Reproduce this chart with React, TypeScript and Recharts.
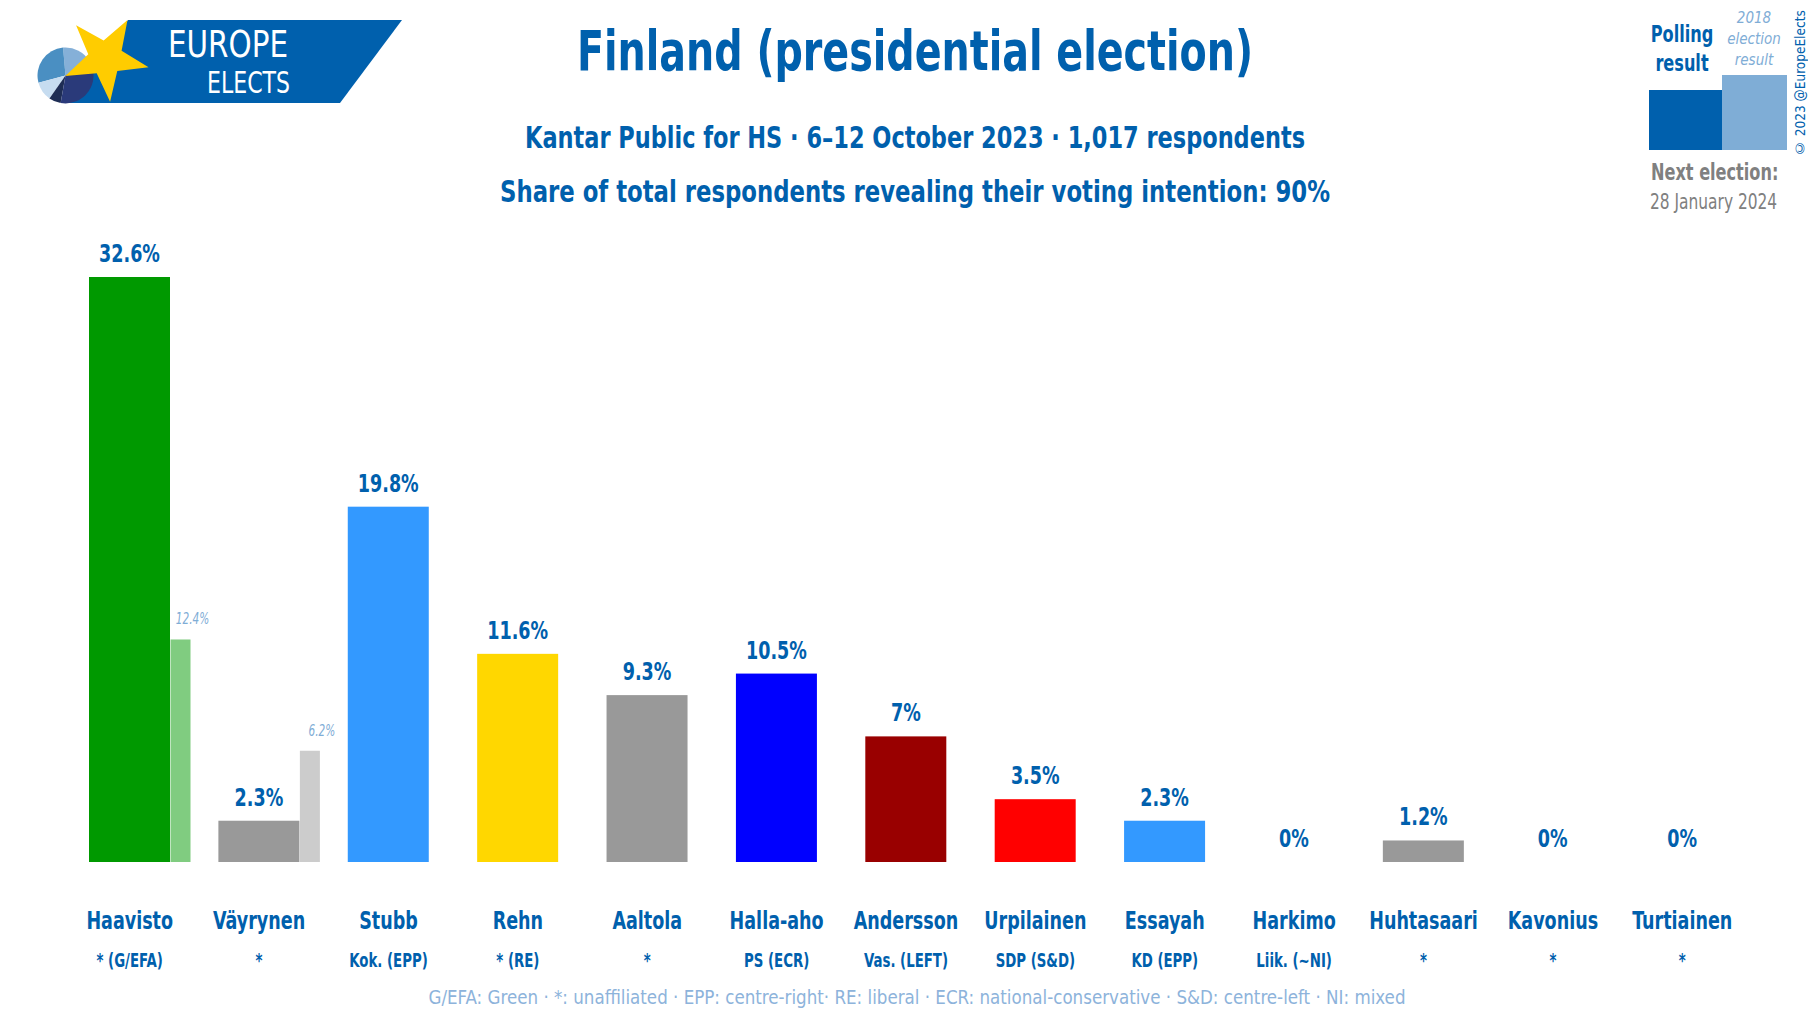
import React from 'react';
import { BarChart, Bar, XAxis, YAxis, Cell, LabelList, PieChart, Pie } from 'recharts';

const candidates = ['Haavisto', 'Väyrynen', 'Stubb', 'Rehn', 'Aaltola', 'Halla-aho', 'Andersson', 'Urpilainen', 'Essayah', 'Harkimo', 'Huhtasaari', 'Kavonius', 'Turtiainen'];
const affiliations = ['* (G/EFA)', '*', 'Kok. (EPP)', '* (RE)', '*', 'PS (ECR)', 'Vas. (LEFT)', 'SDP (S&D)', 'KD (EPP)', 'Liik. (~NI)', '*', '*', '*'];
const polling = [32.6, 2.3, 19.8, 11.6, 9.3, 10.5, 7, 3.5, 2.3, 0, 1.2, 0, 0];
const result2018 = [12.4, 6.2, null, null, null, null, null, null, null, null, null, null, null];
const pollColors = ['#009900', '#999999', '#3399ff', '#ffd700', '#999999', '#0000ff', '#990000', '#ff0000', '#3399ff', '#999999', '#999999', '#999999', '#999999'];
const prevColors = ['#80cc80', '#cccccc', '#cccccc', '#cccccc', '#cccccc', '#cccccc', '#cccccc', '#cccccc', '#cccccc', '#cccccc', '#cccccc', '#cccccc', '#cccccc'];

const logoSlices = [
  { name: 'a', value: 65, fill: '#85b0d8' },
  { name: 'b', value: 100, fill: '#4a8fc2' },
  { name: 'c', value: 40, fill: '#c6dcf0' },
  { name: 'd', value: 25, fill: '#1e2d55' },
  { name: 'e', value: 130, fill: '#2a3a7a' },
];

const data = candidates.map((name, i) => ({
  name,
  poll: polling[i],
  prev: result2018[i],
}));

const FONT = '"DejaVu Sans Condensed", "DejaVu Sans", sans-serif';
const BLUE = '#0060ad';
const LIGHT = '#7fadd6';
const MAIN_W = 81;
const PREV_W = 20;
const SX = 0.78; // squeeze to mimic the narrow original font

const NText = (p: any) => {
  const { x, y, anchor = 'start', size, weight = 'normal', italic, fill, children } = p;
  return (
    <text
      transform={`translate(${x} ${y}) scale(${SX} 1)`}
      textAnchor={anchor}
      fontFamily={FONT}
      fontSize={size}
      fontWeight={weight}
      fontStyle={italic ? 'italic' : 'normal'}
      fill={fill}
    >
      {children}
    </text>
  );
};

const CategoryTick = (props: any) => {
  const { x, y, payload } = props;
  return (
    <g>
      <NText x={x} y={y + 67} anchor="middle" size={25} weight="bold" fill={BLUE}>
        {payload.value}
      </NText>
      <NText x={x} y={y + 105} anchor="middle" size={19} weight="bold" fill={BLUE}>
        {affiliations[payload.index]}
      </NText>
    </g>
  );
};

const MainShape = (props: any) => {
  const { x, y, width, height, fill, payload } = props;
  if (!payload || !payload.poll) return null;
  return <rect x={x} y={y} width={width} height={height} fill={fill} />;
};

const PrevShape = (props: any) => {
  const { x, y, width, height, fill } = props;
  if (!height) return null;
  return <rect x={x + MAIN_W / 2 + PREV_W / 2} y={y} width={width} height={height} fill={fill} />;
};

const PollLabel = (props: any) => {
  const { x, y, width, height, value } = props;
  const top = value ? y : y + height;
  return (
    <NText x={x + width / 2} y={top - 15} anchor="middle" size={25} weight="bold" fill={BLUE}>
      {value}%
    </NText>
  );
};

const PrevLabel = (props: any) => {
  const { x, y, width, value } = props;
  if (value == null) return null;
  return (
    <NText x={x + MAIN_W / 2 + PREV_W / 2 + width / 2 + 12} y={y - 15} anchor="middle" size={15} italic fill={LIGHT}>
      {value}%
    </NText>
  );
};

function star(cx: number, cy: number, r: number, rot: number) {
  const pts: string[] = [];
  for (let i = 0; i < 10; i++) {
    const rr = i % 2 === 0 ? r : r * 0.4;
    const a = ((rot + i * 36) * Math.PI) / 180;
    pts.push(`${cx + rr * Math.sin(a)},${cy - rr * Math.cos(a)}`);
  }
  return pts.join(' ');
}

export default function App() {
  return (
    <div style={{ position: 'absolute', left: 0, top: 0, width: 1819, height: 1026, background: '#fff', overflow: 'hidden' }}>
      <svg width={1819} height={1026} style={{ position: 'absolute', left: 0, top: 0 }}>
        {/* logo banner */}
        <polygon points="128,20 402,20 340,103 67,103" fill="#0060ad" />
        <text x={168} y={57} fontFamily={FONT} fontSize={37} fill="#fff" textLength={120} lengthAdjust="spacingAndGlyphs">EUROPE</text>
        <text x={207} y={93} fontFamily={FONT} fontSize={30} fill="#fff" textLength={83} lengthAdjust="spacingAndGlyphs">ELECTS</text>

        {/* titles */}
        <text x={915} y={70} textAnchor="middle" fontFamily={FONT} fontWeight="bold" fontSize={56} fill={BLUE} textLength={676} lengthAdjust="spacingAndGlyphs">
          Finland (presidential election)
        </text>
        <text x={915} y={148} textAnchor="middle" fontFamily={FONT} fontWeight="bold" fontSize={30} fill={BLUE} textLength={780} lengthAdjust="spacingAndGlyphs">
          Kantar Public for HS · 6–12 October 2023 · 1,017 respondents
        </text>
        <text x={915} y={202} textAnchor="middle" fontFamily={FONT} fontWeight="bold" fontSize={30} fill={BLUE} textLength={830} lengthAdjust="spacingAndGlyphs">
          Share of total respondents revealing their voting intention: 90%
        </text>

        {/* legend */}
        <NText x={1682} y={42} anchor="middle" size={23} weight="bold" fill={BLUE}>Polling</NText>
        <NText x={1682} y={71} anchor="middle" size={23} weight="bold" fill={BLUE}>result</NText>
        <text x={1754} y={23} textAnchor="middle" fontFamily={FONT} fontStyle="italic" fontSize={15} fill={LIGHT}>2018</text>
        <text x={1754} y={44} textAnchor="middle" fontFamily={FONT} fontStyle="italic" fontSize={15} fill={LIGHT}>election</text>
        <text x={1754} y={65} textAnchor="middle" fontFamily={FONT} fontStyle="italic" fontSize={15} fill={LIGHT}>result</text>
        <rect x={1649} y={90} width={73} height={60} fill={BLUE} />
        <rect x={1722} y={75} width={65} height={75} fill={LIGHT} />
        <NText x={1651} y={180} size={23} weight="bold" fill="#808080">Next election:</NText>
        <NText x={1650} y={209} size={22} fill="#808080">28 January 2024</NText>

        {/* footnote */}
        <text x={917} y={1004} textAnchor="middle" fontFamily={FONT} fontSize={20} fill="#8db3db" textLength={977} lengthAdjust="spacingAndGlyphs">
          G/EFA: Green · *: unaffiliated · EPP: centre-right· RE: liberal · ECR: national-conservative · S&amp;D: centre-left · NI: mixed
        </text>
      </svg>

      <div
        style={{
          position: 'absolute',
          left: 1792,
          top: 12,
          height: 144,
          writingMode: 'vertical-rl',
          transform: 'rotate(180deg)',
          fontFamily: FONT,
          fontSize: 13.5,
          lineHeight: '16px',
          color: BLUE,
          whiteSpace: 'nowrap',
          textAlign: 'center',
        }}
      >
        © 2023 @EuropeElects
      </div>

      <div style={{ position: 'absolute', left: 37, top: 47 }}>
        <PieChart width={57} height={57} margin={{ top: 0, right: 0, bottom: 0, left: 0 }}>
          <Pie data={logoSlices} dataKey="value" cx={28.5} cy={28.5} outerRadius={28} startAngle={30} endAngle={390} stroke="none" isAnimationActive={false}>
            {logoSlices.map((s) => (
              <Cell key={s.name} fill={s.fill} />
            ))}
          </Pie>
        </PieChart>
      </div>
      <svg width={200} height={130} style={{ position: 'absolute', left: 0, top: 0 }}>
        <polygon points={star(105.5, 58, 44, 30)} fill="#ffcc00" />
      </svg>

      <div style={{ position: 'absolute', left: 0, top: 0 }}>
        <BarChart width={1819} height={1026} data={data} margin={{ top: 277, right: 72, bottom: 134, left: 65 }} barGap={0} barCategoryGap={0}>
          <YAxis hide domain={[0, 'dataMax']} />
          <XAxis xAxisId="main" dataKey="name" height={30} axisLine={false} tickLine={false} tickSize={0} tickMargin={0} interval={0} tick={<CategoryTick />} />
          <XAxis xAxisId="prev" dataKey="name" hide />
          <Bar xAxisId="prev" dataKey="prev" barSize={PREV_W} shape={<PrevShape />} isAnimationActive={false}>
            {data.map((d, i) => (
              <Cell key={d.name} fill={prevColors[i]} />
            ))}
            <LabelList dataKey="prev" content={<PrevLabel />} />
          </Bar>
          <Bar xAxisId="main" dataKey="poll" barSize={MAIN_W} minPointSize={1} shape={<MainShape />} isAnimationActive={false}>
            {data.map((d, i) => (
              <Cell key={d.name} fill={pollColors[i]} />
            ))}
            <LabelList dataKey="poll" content={<PollLabel />} />
          </Bar>
        </BarChart>
      </div>
    </div>
  );
}
